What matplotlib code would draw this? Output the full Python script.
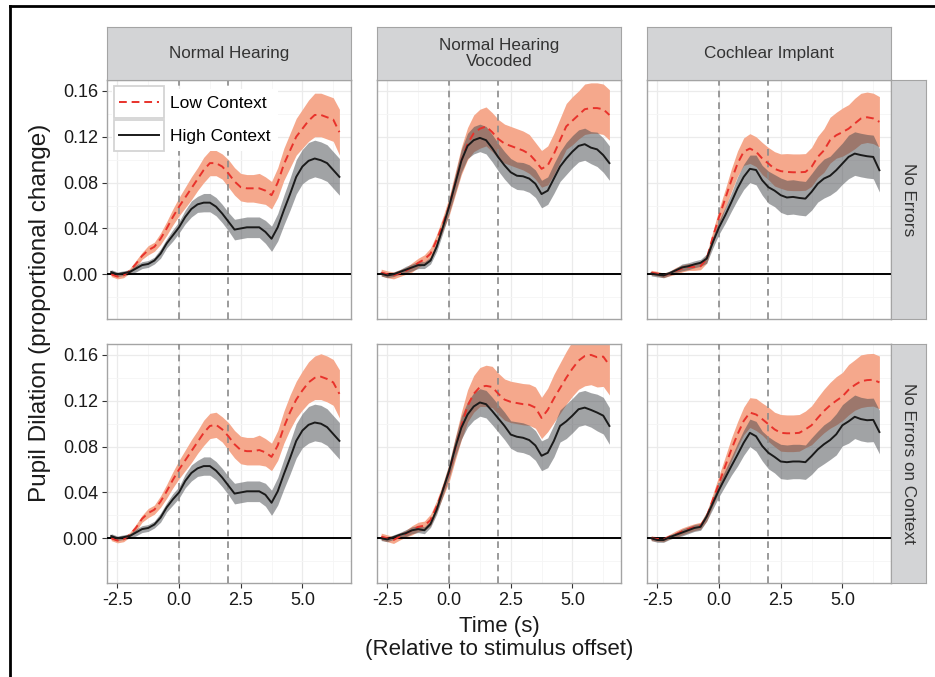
import numpy as np
import matplotlib
matplotlib.use('Agg')
import matplotlib.pyplot as plt
from matplotlib.lines import Line2D
from matplotlib.patches import Rectangle
from matplotlib.legend_handler import HandlerLine2D

plt.rcParams['font.family'] = ['Liberation Sans', 'DejaVu Sans']

# time (s) relative to stimulus offset
time = [-2.75, -2.5, -2.25, -2.0, -1.75, -1.5, -1.25, -1.0, -0.75, -0.5, -0.25, 0.0,
        0.25, 0.5, 0.75, 1.0, 1.25, 1.5, 1.75, 2.0, 2.25, 2.5, 2.75, 3.0, 3.25, 3.5,
        3.75, 4.0, 4.25, 4.5, 4.75, 5.0, 5.25, 5.5, 5.75, 6.0, 6.25, 6.5]

groups = ["Normal Hearing", "Normal Hearing\nVocoded", "Cochlear Implant"]
subsets = ["No Errors", "No Errors on Context"]
conditions = ["Low Context", "High Context"]

# ---- Normal Hearing, No Errors
nh_ne_low = [0.000, -0.002, -0.001, 0.003, 0.009, 0.016, 0.021, 0.024, 0.031, 0.040, 0.050, 0.059,
             0.067, 0.075, 0.083, 0.091, 0.097, 0.097, 0.094, 0.088, 0.081, 0.076, 0.075, 0.075,
             0.075, 0.073, 0.069, 0.080, 0.096, 0.108, 0.120, 0.127, 0.134, 0.139, 0.139, 0.137,
             0.135, 0.124]
nh_ne_low_se = [0.002, 0.002, 0.002, 0.002, 0.003, 0.003, 0.004, 0.004, 0.005, 0.006, 0.007, 0.008,
                0.009, 0.010, 0.010, 0.011, 0.011, 0.011, 0.011, 0.012, 0.012, 0.012, 0.012, 0.012,
                0.013, 0.012, 0.012, 0.013, 0.014, 0.015, 0.016, 0.017, 0.018, 0.019, 0.019, 0.019,
                0.019, 0.020]
nh_ne_high = [0.002, 0.000, 0.001, 0.002, 0.005, 0.008, 0.009, 0.012, 0.018, 0.027, 0.034, 0.041,
              0.050, 0.057, 0.061, 0.0625, 0.0625, 0.059, 0.053, 0.046, 0.039, 0.040, 0.041, 0.041,
              0.041, 0.037, 0.031, 0.041, 0.056, 0.070, 0.085, 0.094, 0.099, 0.101, 0.0995, 0.097,
              0.091, 0.085]
nh_ne_high_se = [0.002, 0.002, 0.002, 0.002, 0.003, 0.003, 0.003, 0.003, 0.004, 0.004, 0.005, 0.005,
                 0.006, 0.007, 0.007, 0.008, 0.008, 0.008, 0.008, 0.008, 0.009, 0.009, 0.009, 0.009,
                 0.009, 0.010, 0.011, 0.012, 0.013, 0.014, 0.015, 0.015, 0.016, 0.016, 0.016, 0.016,
                 0.016, 0.016]

# ---- Normal Hearing, No Errors on Context
nh_nec_low = [0.000, -0.002, -0.001, 0.003, 0.009, 0.017, 0.022, 0.025, 0.032, 0.041, 0.051, 0.060,
              0.068, 0.076, 0.084, 0.092, 0.098, 0.099, 0.095, 0.089, 0.082, 0.077, 0.076, 0.076,
              0.077, 0.075, 0.071, 0.081, 0.097, 0.110, 0.121, 0.129, 0.136, 0.140, 0.141, 0.139,
              0.136, 0.126]
nh_nec_low_se = [0.002, 0.002, 0.002, 0.002, 0.003, 0.003, 0.004, 0.004, 0.005, 0.006, 0.007, 0.008,
                 0.009, 0.010, 0.010, 0.011, 0.011, 0.011, 0.011, 0.012, 0.012, 0.012, 0.012, 0.012,
                 0.013, 0.012, 0.012, 0.013, 0.014, 0.015, 0.016, 0.017, 0.018, 0.019, 0.020, 0.020,
                 0.020, 0.021]
nh_nec_high = [0.002, 0.000, 0.001, 0.002, 0.005, 0.008, 0.009, 0.012, 0.018, 0.027, 0.034, 0.040,
               0.050, 0.057, 0.061, 0.063, 0.063, 0.059, 0.053, 0.046, 0.039, 0.040, 0.041, 0.041,
               0.041, 0.038, 0.031, 0.041, 0.056, 0.070, 0.085, 0.094, 0.099, 0.101, 0.100, 0.097,
               0.091, 0.085]
nh_nec_high_se = [0.002, 0.002, 0.002, 0.002, 0.003, 0.003, 0.003, 0.003, 0.004, 0.004, 0.005, 0.005,
                  0.006, 0.007, 0.007, 0.008, 0.008, 0.008, 0.008, 0.008, 0.009, 0.009, 0.009, 0.009,
                  0.009, 0.010, 0.011, 0.012, 0.013, 0.014, 0.015, 0.015, 0.016, 0.016, 0.016, 0.016,
                  0.016, 0.016]

# ---- Normal Hearing Vocoded, No Errors
nhv_ne_low = [0.0015, 0.000, -0.001, 0.001, 0.003, 0.006, 0.010, 0.013, 0.018, 0.030, 0.044, 0.059,
              0.079, 0.099, 0.114, 0.123, 0.127, 0.129, 0.124, 0.118, 0.114, 0.112, 0.110, 0.108,
              0.105, 0.099, 0.092, 0.095, 0.105, 0.117, 0.129, 0.134, 0.139, 0.144, 0.145, 0.145,
              0.144, 0.139]
nhv_ne_low_se = [0.003, 0.003, 0.003, 0.003, 0.003, 0.004, 0.004, 0.004, 0.005, 0.005, 0.006, 0.008,
                 0.010, 0.012, 0.014, 0.016, 0.017, 0.017, 0.017, 0.017, 0.017, 0.017, 0.017, 0.017,
                 0.017, 0.016, 0.016, 0.017, 0.018, 0.019, 0.020, 0.021, 0.021, 0.022, 0.022, 0.022,
                 0.022, 0.022]
nhv_ne_high = [0.0005, -0.001, 0.000, 0.002, 0.004, 0.006, 0.008, 0.008, 0.012, 0.024, 0.041, 0.059,
               0.079, 0.099, 0.112, 0.117, 0.119, 0.117, 0.110, 0.102, 0.095, 0.089, 0.086, 0.0855,
               0.0835, 0.079, 0.070, 0.073, 0.0835, 0.094, 0.101, 0.107, 0.112, 0.1135, 0.1105, 0.109,
               0.104, 0.097]
nhv_ne_high_se = [0.002, 0.002, 0.002, 0.002, 0.003, 0.003, 0.003, 0.003, 0.003, 0.004, 0.005, 0.006,
                  0.008, 0.010, 0.011, 0.012, 0.012, 0.012, 0.012, 0.012, 0.012, 0.012, 0.012, 0.012,
                  0.012, 0.012, 0.012, 0.012, 0.013, 0.013, 0.014, 0.014, 0.014, 0.014, 0.014, 0.015,
                  0.015, 0.015]

# ---- Normal Hearing Vocoded, No Errors on Context
nhv_nec_low = [0.0015, 0.000, -0.0015, 0.0015, 0.004, 0.007, 0.010, 0.011, 0.016, 0.028, 0.042, 0.057,
               0.078, 0.098, 0.1155, 0.126, 0.132, 0.133, 0.132, 0.126, 0.121, 0.119, 0.118, 0.117,
               0.1165, 0.114, 0.105, 0.112, 0.122, 0.131, 0.140, 0.148, 0.155, 0.159, 0.160, 0.158,
               0.1585, 0.151]
nhv_nec_low_se = [0.003, 0.003, 0.003, 0.003, 0.003, 0.004, 0.004, 0.004, 0.005, 0.005, 0.006, 0.008,
                  0.010, 0.012, 0.014, 0.016, 0.017, 0.018, 0.018, 0.018, 0.018, 0.018, 0.018, 0.018,
                  0.018, 0.018, 0.018, 0.019, 0.021, 0.022, 0.023, 0.024, 0.025, 0.026, 0.026, 0.026,
                  0.026, 0.026]
nhv_nec_high = [0.000, -0.001, 0.001, 0.003, 0.0045, 0.007, 0.008, 0.007, 0.0125, 0.025, 0.042, 0.0585,
                0.079, 0.0965, 0.108, 0.115, 0.1185, 0.117, 0.111, 0.1045, 0.098, 0.0905, 0.0886, 0.0877,
                0.0857, 0.081, 0.072, 0.0746, 0.085, 0.098, 0.102, 0.107, 0.1126, 0.114, 0.112, 0.1097,
                0.107, 0.098]
nhv_nec_high_se = [0.002, 0.002, 0.002, 0.002, 0.003, 0.003, 0.003, 0.003, 0.003, 0.004, 0.005, 0.006,
                   0.008, 0.010, 0.011, 0.012, 0.012, 0.012, 0.012, 0.012, 0.012, 0.012, 0.013, 0.013,
                   0.013, 0.013, 0.013, 0.013, 0.014, 0.014, 0.015, 0.015, 0.015, 0.015, 0.015, 0.016,
                   0.016, 0.016]

# ---- Cochlear Implant, No Errors
ci_ne_low = [0.0015, 0.0006, -0.001, 0.0006, 0.003, 0.005, 0.0064, 0.0064, 0.007, 0.0137, 0.0326, 0.050,
             0.066, 0.082, 0.0966, 0.107, 0.1097, 0.107, 0.101, 0.0966, 0.092, 0.090, 0.0893, 0.089,
             0.089, 0.0893, 0.0937, 0.1024, 0.108, 0.117, 0.1213, 0.124, 0.127, 0.1315, 0.1359, 0.137,
             0.136, 0.133]
ci_ne_low_se = [0.002, 0.002, 0.002, 0.002, 0.003, 0.003, 0.003, 0.003, 0.003, 0.004, 0.005, 0.007,
                0.008, 0.010, 0.011, 0.012, 0.013, 0.013, 0.014, 0.014, 0.015, 0.015, 0.016, 0.016,
                0.016, 0.016, 0.017, 0.018, 0.019, 0.020, 0.020, 0.021, 0.021, 0.022, 0.022, 0.022,
                0.022, 0.022]
ci_ne_high = [0.0006, -0.0003, -0.001, 0.001, 0.0035, 0.006, 0.007, 0.0087, 0.010, 0.0137, 0.028, 0.041,
              0.0515, 0.063, 0.075, 0.085, 0.092, 0.091, 0.082, 0.076, 0.073, 0.069, 0.067, 0.0675,
              0.0666, 0.066, 0.0719, 0.079, 0.0835, 0.086, 0.0908, 0.0966, 0.1024, 0.1053, 0.104, 0.103,
              0.1024, 0.0908]
ci_ne_high_se = [0.002, 0.002, 0.002, 0.002, 0.002, 0.003, 0.003, 0.003, 0.003, 0.004, 0.005, 0.006,
                 0.007, 0.008, 0.010, 0.011, 0.012, 0.013, 0.013, 0.014, 0.014, 0.015, 0.015, 0.015,
                 0.015, 0.015, 0.016, 0.016, 0.017, 0.017, 0.018, 0.018, 0.019, 0.019, 0.019, 0.019,
                 0.019, 0.019]

# ---- Cochlear Implant, No Errors on Context
ci_nec_low = [0.000, -0.0006, -0.001, 0.0015, 0.0035, 0.006, 0.008, 0.0097, 0.011, 0.019, 0.0336, 0.048,
              0.063, 0.0775, 0.0907, 0.1024, 0.1097, 0.108, 0.104, 0.0995, 0.095, 0.092, 0.0916, 0.0916,
              0.092, 0.095, 0.0986, 0.105, 0.111, 0.116, 0.120, 0.1237, 0.1296, 0.1337, 0.137, 0.138,
              0.1383, 0.136]
ci_nec_low_se = [0.002, 0.002, 0.002, 0.002, 0.003, 0.003, 0.003, 0.003, 0.003, 0.004, 0.005, 0.007,
                 0.008, 0.010, 0.011, 0.012, 0.013, 0.014, 0.014, 0.015, 0.015, 0.016, 0.016, 0.016,
                 0.016, 0.016, 0.017, 0.018, 0.019, 0.020, 0.021, 0.021, 0.022, 0.022, 0.023, 0.023,
                 0.023, 0.023]
ci_nec_high = [0.000, -0.0015, -0.0015, 0.001, 0.003, 0.005, 0.007, 0.009, 0.010, 0.019, 0.0307, 0.0424,
               0.0527, 0.063, 0.073, 0.0834, 0.092, 0.089, 0.0805, 0.0746, 0.071, 0.067, 0.0664, 0.067,
               0.067, 0.0664, 0.0717, 0.0775, 0.082, 0.0857, 0.0907, 0.0986, 0.102, 0.106, 0.104, 0.103,
               0.1033, 0.0927]
ci_nec_high_se = [0.002, 0.002, 0.002, 0.002, 0.002, 0.003, 0.003, 0.003, 0.003, 0.004, 0.005, 0.006,
                  0.007, 0.008, 0.010, 0.011, 0.012, 0.013, 0.013, 0.014, 0.014, 0.015, 0.015, 0.015,
                  0.015, 0.015, 0.016, 0.016, 0.017, 0.017, 0.018, 0.018, 0.019, 0.019, 0.019, 0.019,
                  0.019, 0.019]

xticks = [-2.5, 0.0, 2.5, 5.0]
xticklabels = ["-2.5", "0.0", "2.5", "5.0"]
yticks = [0.0, 0.04, 0.08, 0.12, 0.16]
yticklabels = ["0.00", "0.04", "0.08", "0.12", "0.16"]

# panels[row][col] = (low, low_se, high, high_se)
panels = [
    [(nh_ne_low, nh_ne_low_se, nh_ne_high, nh_ne_high_se),
     (nhv_ne_low, nhv_ne_low_se, nhv_ne_high, nhv_ne_high_se),
     (ci_ne_low, ci_ne_low_se, ci_ne_high, ci_ne_high_se)],
    [(nh_nec_low, nh_nec_low_se, nh_nec_high, nh_nec_high_se),
     (nhv_nec_low, nhv_nec_low_se, nhv_nec_high, nhv_nec_high_se),
     (ci_nec_low, ci_nec_low_se, ci_nec_high, ci_nec_high_se)],
]


class BoxedKey(HandlerLine2D):
    # ggplot-like legend key: line inside a light grey box
    def create_artists(self, legend, orig_handle, xdescent, ydescent, width, height, fontsize, trans):
        arts = super().create_artists(legend, orig_handle, xdescent, ydescent, width, height,
                                      fontsize, trans)
        pad_x, pad_y = 3.5, 7.0
        box = Rectangle((-xdescent - pad_x, -ydescent - pad_y), width + 2 * pad_x, height + 2 * pad_y,
                        facecolor='white', edgecolor='#d4d4d4', lw=1.3, transform=trans)
        return [box] + arts


W, H = 935, 677
fig = plt.figure(figsize=(W / 100, H / 100), dpi=100)


def fx(px):
    return px / W


def fy(py):
    return 1 - py / H


col_left = [107, 377, 647]
row_top = [80, 344]
pw, ph = 244, 239
strip_bg = '#d3d4d6'
edge = '#a4a4a4'
t = np.array(time)

for r in range(2):
    for c in range(3):
        low, low_se, high, high_se = [np.array(v) for v in panels[r][c]]
        ax = fig.add_axes([fx(col_left[c]), fy(row_top[r] + ph), pw / W, ph / H])
        ax.fill_between(t, low - low_se, low + low_se, color='#f5a88c', lw=0, zorder=2)
        ax.fill_between(t, high - high_se, high + high_se, color='#45484d', alpha=0.5, lw=0, zorder=3)
        ax.axvline(0, color='#8a8a8a', ls=(0, (4, 3)), lw=1.2, zorder=4)
        ax.axvline(2, color='#8a8a8a', ls=(0, (4, 3)), lw=1.2, zorder=4)
        ax.axhline(0, color='black', lw=1.4, zorder=4)
        l1, = ax.plot(t, low, color='#e8322b', ls=(0, (4, 2.5)), lw=1.4, zorder=5, label=conditions[0])
        l2, = ax.plot(t, high, color='#1a1a1a', lw=1.4, zorder=5, label=conditions[1])

        ax.set_xlim(-2.92, 6.97)
        ax.set_ylim(-0.039, 0.1695)
        ax.set_xticks(xticks)
        ax.set_xticks([-1.25, 1.25, 3.75, 6.25], minor=True)
        ax.set_yticks(yticks)
        ax.set_yticks([-0.02, 0.02, 0.06, 0.10, 0.14], minor=True)
        ax.grid(which='major', color='#ebebeb', lw=0.9, zorder=0)
        ax.grid(which='minor', color='#f5f5f5', lw=0.6, zorder=0)
        ax.set_axisbelow(True)
        for s in ax.spines.values():
            s.set_color(edge)
            s.set_linewidth(1.0)
        ax.tick_params(which='minor', length=0)
        ax.tick_params(which='major', length=3.5, color='#333333', labelsize=13,
                       labelcolor='#1a1a1a', pad=3)
        if r == 1:
            ax.set_xticklabels(xticklabels)
        else:
            ax.tick_params(axis='x', length=0, labelbottom=False)
        if c == 0:
            ax.set_yticklabels(yticklabels)
        else:
            ax.tick_params(axis='y', length=0, labelleft=False)

        if r == 0 and c == 0:
            leg = ax.legend(handles=[l1, l2], loc='upper left',
                            bbox_to_anchor=(5 / pw, 1 - 9 / ph),
                            fontsize=12.5, frameon=True, fancybox=False, framealpha=1,
                            handlelength=2.3, handletextpad=0.65, labelspacing=1.05,
                            borderpad=0.4, borderaxespad=0.0,
                            handler_map={Line2D: BoxedKey()})
            leg.get_frame().set_facecolor('white')
            leg.get_frame().set_edgecolor('none')
            leg.set_zorder(10)

        # top strips
        if r == 0:
            sx = fig.add_axes([fx(col_left[c]), fy(80), pw / W, 53 / H])
            sx.set_facecolor(strip_bg)
            sx.set_xticks([])
            sx.set_yticks([])
            for s in sx.spines.values():
                s.set_color(edge)
            sx.text(0.5, 0.5, groups[c], ha='center', va='center', fontsize=12.3,
                    color='#333333', linespacing=1.05, transform=sx.transAxes)

    # right strips
    rx = fig.add_axes([fx(891), fy(row_top[r] + ph), 35 / W, ph / H])
    rx.set_facecolor(strip_bg)
    rx.set_xticks([])
    rx.set_yticks([])
    for s in rx.spines.values():
        s.set_color(edge)
    rx.text(0.5, 0.5, subsets[r], ha='center', va='center', rotation=-90, fontsize=12.3,
            color='#333333', transform=rx.transAxes)

fig.text(fx(40), fy(313), "Pupil Dilation (proportional change)", rotation=90,
         ha='center', va='center', fontsize=17.5, color='#1a1a1a')
fig.text(fx(499), fy(638), "Time (s)\n(Relative to stimulus offset)", ha='center', va='center',
         fontsize=16, color='#1a1a1a', linespacing=1.1)

# outer frame (left and top edges)
fig.add_artist(Line2D([fx(10), fx(10)], [fy(6), 0], color='black', lw=2))
fig.add_artist(Line2D([fx(10), 1], [fy(6), fy(6)], color='black', lw=2))

fig.savefig('out.png', dpi=100)
